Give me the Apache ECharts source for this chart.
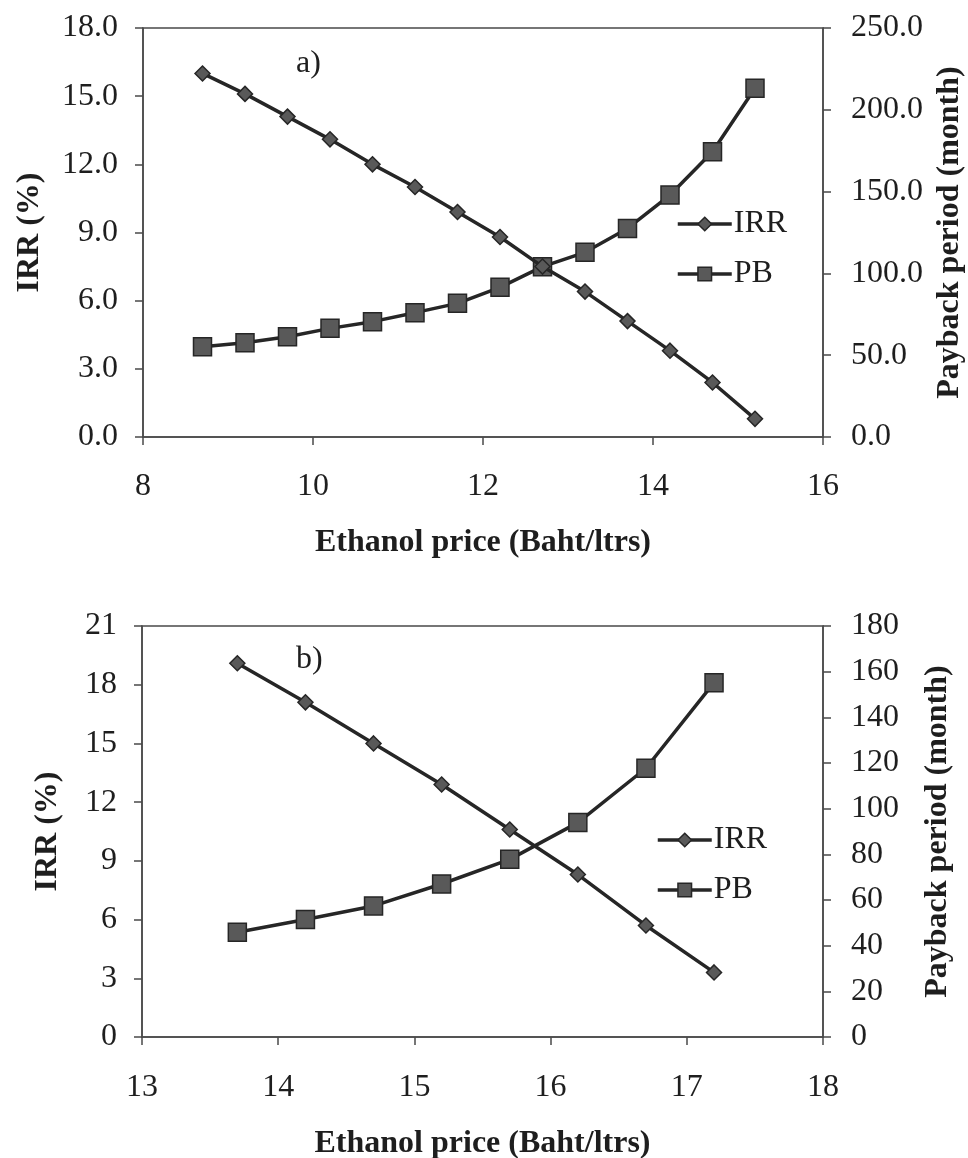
<!DOCTYPE html>
<html>
<head>
<meta charset="utf-8">
<script src="https://cdn.jsdelivr.net/npm/echarts@6/dist/echarts.min.js"></script>
<style>
html,body{margin:0;padding:0;background:#fff;}
#c{width:968px;height:1158px;}
</style>
</head>
<body>
<div id="c"></div>
<script>
// Panel a)
const priceA = [8.7, 9.2, 9.7, 10.2, 10.7, 11.2, 11.7, 12.2, 12.7, 13.2, 13.7, 14.2, 14.7, 15.2];
const irrA = [16.0, 15.1, 14.1, 13.1, 12.0, 11.0, 9.9, 8.8, 7.5, 6.4, 5.1, 3.8, 2.4, 0.8];
const pbA = [55.2, 57.6, 61.3, 66.4, 70.5, 76.0, 81.7, 91.5, 104.1, 112.9, 127.5, 147.9, 174.4, 213.2];
// Panel b)
const priceB = [13.7, 14.2, 14.7, 15.2, 15.7, 16.2, 16.7, 17.2];
const irrB = [19.1, 17.1, 15.0, 12.9, 10.6, 8.3, 5.7, 3.3];
const pbB = [45.9, 51.5, 57.4, 67.0, 77.8, 93.9, 117.7, 155.2];

const seriesNames = ['IRR', 'PB'];
const panelLabels = ['a)', 'b)'];
const xTitle = 'Ethanol price (Baht/ltrs)';
const yLeftTitle = 'IRR (%)';
const yRightTitle = 'Payback period (month)';

const FONT = '"Liberation Serif", "Times New Roman", serif';
const TXT = '#1e1e1e';
const AX = '#4a4a4a';
const LINE = '#262626';
const FILL = '#595959';

function pairs(xs, ys) { return xs.map((x, i) => [x, ys[i]]); }

function xAxis(gridIndex, min, max, interval, gap, margin) {
  return {
    type: 'value', gridIndex, min, max, interval,
    name: xTitle, nameLocation: 'middle', nameGap: gap,
    nameTextStyle: { fontFamily: FONT, fontSize: 32, fontWeight: 'bold', color: TXT },
    axisLine: { show: true, onZero: false, lineStyle: { color: AX, width: 1.5 } },
    axisTick: { show: true, inside: false, length: 8, lineStyle: { color: AX, width: 1.5 } },
    axisLabel: { fontFamily: FONT, fontSize: 32, color: TXT, margin },
    splitLine: { show: false }
  };
}
function yAxis(gridIndex, pos, min, max, interval, decimals, name, gap) {
  return {
    type: 'value', gridIndex, position: pos, min, max, interval,
    name, nameLocation: 'middle', nameGap: gap,
    nameTextStyle: { fontFamily: FONT, fontSize: 32, fontWeight: 'bold', color: TXT },
    axisLine: { show: true, lineStyle: { color: AX, width: 1.5 } },
    axisTick: { show: true, inside: false, length: 8, lineStyle: { color: AX, width: 1.5 } },
    axisLabel: {
      fontFamily: FONT, fontSize: 32, color: TXT, margin: pos === 'left' ? 25 : 28,
      formatter: v => v.toFixed(decimals)
    },
    splitLine: { show: false }
  };
}
function irrSeries(xi, yi, data) {
  return {
    name: 'IRR', type: 'line', xAxisIndex: xi, yAxisIndex: yi, data,
    symbol: 'diamond', symbolSize: 15,
    lineStyle: { color: LINE, width: 3.5 },
    itemStyle: { color: FILL, borderColor: LINE, borderWidth: 1.5 },
    z: 3
  };
}
function pbSeries(xi, yi, data) {
  return {
    name: 'PB', type: 'line', xAxisIndex: xi, yAxisIndex: yi, data,
    symbol: 'rect', symbolSize: 18,
    lineStyle: { color: LINE, width: 3.5 },
    itemStyle: { color: FILL, borderColor: LINE, borderWidth: 1.5 },
    z: 2
  };
}
function legend(left, top) {
  return {
    data: seriesNames, orient: 'vertical', left, top,
    itemWidth: 54, itemHeight: 17, itemGap: 18,
    lineStyle: { color: LINE, width: 3.5 },
    itemStyle: { color: FILL, borderColor: LINE, borderWidth: 1.5 },
    textStyle: { fontFamily: FONT, fontSize: 32, color: TXT, padding: [0, 0, 0, -3] },
    padding: 0
  };
}

const chart = echarts.init(document.getElementById('c'), null, { renderer: 'canvas' });
chart.setOption({
  animation: false,
  backgroundColor: '#ffffff',
  title: [
    { text: panelLabels[0], left: 291, top: 43, textStyle: { fontFamily: FONT, fontSize: 32, fontWeight: 'normal', color: TXT } },
    { text: panelLabels[1], left: 291, top: 639, textStyle: { fontFamily: FONT, fontSize: 32, fontWeight: 'normal', color: TXT } }
  ],
  grid: [
    { left: 143, top: 28, width: 680, height: 409, show: true, borderColor: AX, borderWidth: 1.5, backgroundColor: 'transparent', containLabel: false, outerBoundsMode: 'none' },
    { left: 142, top: 626, width: 681, height: 411, show: true, borderColor: AX, borderWidth: 1.5, backgroundColor: 'transparent', containLabel: false, outerBoundsMode: 'none' }
  ],
  legend: [
    legend(676, 208),
    legend(656, 824)
  ],
  xAxis: [
    xAxis(0, 8, 16, 2, 90, 34),
    xAxis(1, 13, 18, 1, 91, 35)
  ],
  yAxis: [
    yAxis(0, 'left', 0, 18, 3, 1, yLeftTitle, 97),
    yAxis(0, 'right', 0, 250, 50, 1, yRightTitle, 111),
    yAxis(1, 'left', 0, 21, 3, 0, yLeftTitle, 78),
    yAxis(1, 'right', 0, 180, 20, 0, yRightTitle, 99)
  ],
  series: [
    irrSeries(0, 0, pairs(priceA, irrA)),
    pbSeries(0, 1, pairs(priceA, pbA)),
    irrSeries(1, 2, pairs(priceB, irrB)),
    pbSeries(1, 3, pairs(priceB, pbB))
  ]
});
</script>
</body>
</html>
